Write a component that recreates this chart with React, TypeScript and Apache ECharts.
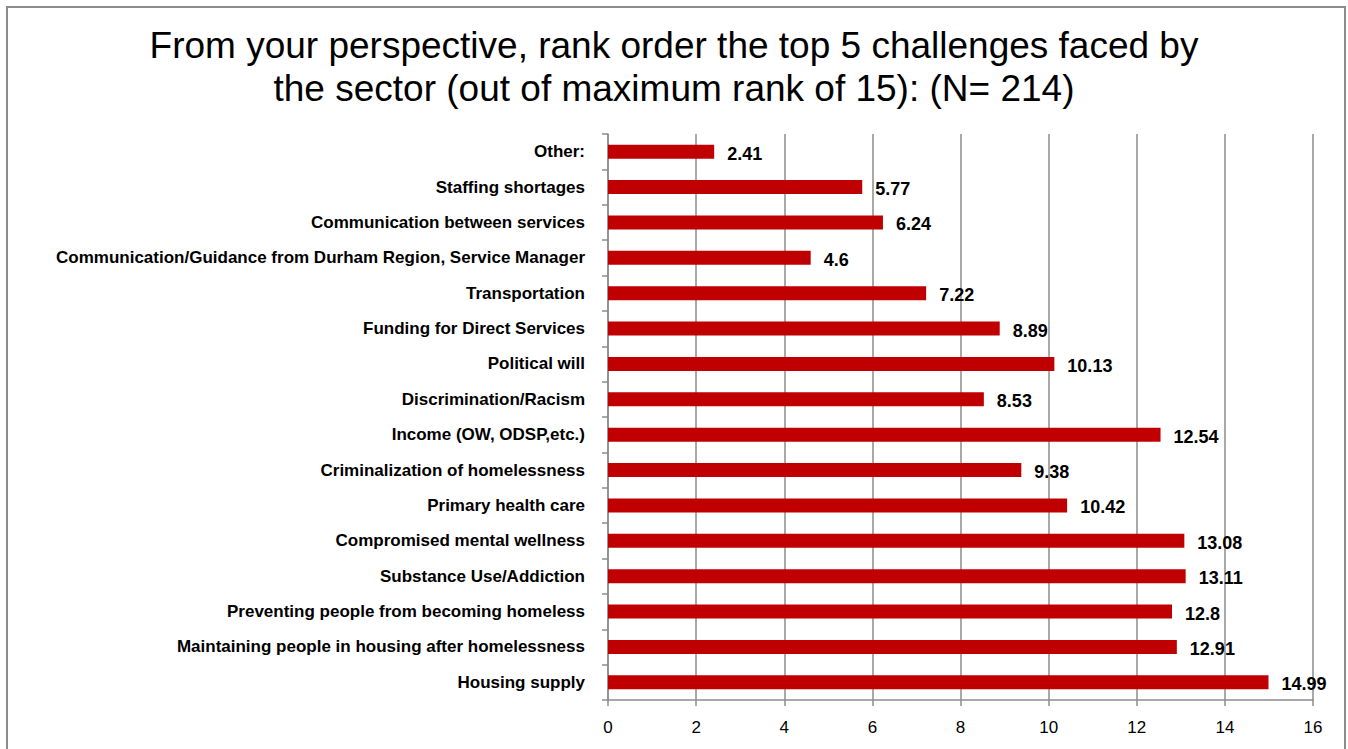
import React, { useEffect, useRef } from "react";
import * as echarts from "echarts";

const titleText =
  "From your perspective, rank order the top 5 challenges faced by\nthe sector (out of maximum rank of 15): (N= 214)";

const categories = [
  "Other:",
  "Staffing shortages",
  "Communication between services",
  "Communication/Guidance from Durham Region, Service Manager",
  "Transportation",
  "Funding for Direct Services",
  "Political will",
  "Discrimination/Racism",
  "Income (OW, ODSP,etc.)",
  "Criminalization of homelessness",
  "Primary health care",
  "Compromised mental wellness",
  "Substance Use/Addiction",
  "Preventing people from becoming homeless",
  "Maintaining people in housing after homelessness",
  "Housing supply",
];

const values = [
  2.41, 5.77, 6.24, 4.6, 7.22, 8.89, 10.13, 8.53, 12.54, 9.38, 10.42, 13.08,
  13.11, 12.8, 12.91, 14.99,
];

const xMin = 0;
const xMax = 16;
const xInterval = 2;

export default function App() {
  const ref = useRef<HTMLDivElement>(null);

  useEffect(() => {
    if (!ref.current) return;
    const chart = echarts.init(ref.current, null, { renderer: "svg" });
    const gray = "#8c8c8c";
    chart.setOption({
      animation: false,
      backgroundColor: "#ffffff",
      title: {
        text: titleText,
        left: "center",
        top: 19,
        textStyle: {
          fontFamily: "Liberation Sans, Arial, sans-serif",
          fontWeight: "normal",
          fontSize: 37,
          lineHeight: 43,
          color: "#000",
        },
      },
      graphic: [
        {
          type: "rect",
          shape: { x: 7, y: 7, width: 1338, height: 800 },
          style: { fill: "none", stroke: gray, lineWidth: 2 },
          silent: true,
        },
      ],
      grid: { left: 608, right: 35, top: 134, bottom: 49 },
      xAxis: {
        type: "value",
        min: xMin,
        max: xMax,
        interval: xInterval,
        axisLine: { show: true, lineStyle: { color: gray, width: 1.5 } },
        axisTick: { show: true, length: 6, lineStyle: { color: gray, width: 1.5 } },
        splitLine: { show: true, lineStyle: { color: gray, width: 1.5 } },
        axisLabel: {
          margin: 19,
          fontFamily: "Liberation Sans, Arial, sans-serif",
          fontSize: 17,
          color: "#000",
        },
      },
      yAxis: {
        type: "category",
        inverse: true,
        data: categories,
        axisLine: { show: true, lineStyle: { color: gray, width: 1.5 } },
        axisTick: { show: true, length: 6, lineStyle: { color: gray, width: 1.5 } },
        axisLabel: {
          margin: 23,
          fontFamily: "Liberation Sans, Arial, sans-serif",
          fontWeight: "bold",
          fontSize: 17,
          color: "#000",
        },
      },
      series: [
        {
          type: "bar",
          data: values,
          barWidth: 14,
          itemStyle: { color: "#c00000" },
          label: {
            show: true,
            position: "right",
            distance: 13,
            fontFamily: "Liberation Sans, Arial, sans-serif",
            fontWeight: "bold",
            fontSize: 18,
            color: "#000",
            offset: [0, 2],
          },
        },
      ],
    });
    return () => chart.dispose();
  }, []);

  return (
    <div
      ref={ref}
      style={{ position: "absolute", left: 0, top: 0, width: 1348, height: 749 }}
    />
  );
}
